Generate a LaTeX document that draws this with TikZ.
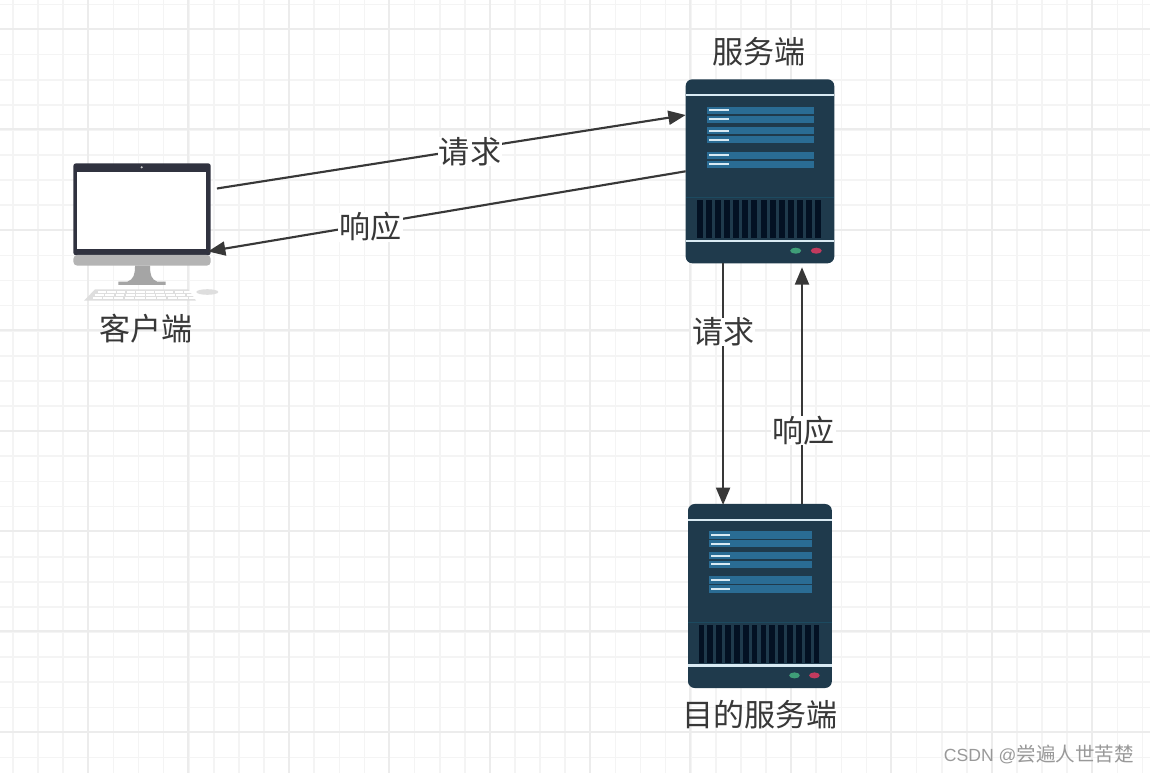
\documentclass[tikz,border=0pt]{standalone}
\usepackage{xcolor}
\usepackage{fontspec}
\setmainfont{Noto Sans CJK SC}
\newfontfamily\latinfont{Liberation Sans}
\usetikzlibrary{arrows.meta,shapes.geometric}
\definecolor{gridminor}{HTML}{F4F4F4}
\definecolor{gridmajor}{HTML}{ECECEC}
\definecolor{rulegray}{HTML}{383838}
\definecolor{rackbody}{HTML}{1F3A4C}
\definecolor{rackbar}{HTML}{2A6C94}
\definecolor{rackvent}{HTML}{031123}
\definecolor{rackline}{HTML}{D9EAF3}
\definecolor{rackseam}{HTML}{1C4A60}
\definecolor{ledgreen}{HTML}{3F9E78}
\definecolor{ledred}{HTML}{C23A5E}
\definecolor{framedark}{HTML}{30323F}
\definecolor{chingray}{HTML}{B4B4B4}
\definecolor{keygray}{HTML}{DEDEDE}
\begin{document}
\begin{tikzpicture}[
  x=0.75pt, y=-0.75pt,
  font=\fontsize{23.3pt}{27pt}\selectfont,
  hostbox/.style={inner sep=0pt, outer sep=0pt, minimum height=138pt},
  lab/.style={text=rulegray, inner sep=0pt},
  tag/.style={lab, fill=white, inner xsep=1pt, inner ysep=0pt},
  arr/.style={-{Triangle[length=13pt,width=10.5pt]}, line width=1.6pt, rulegray},
  pics/rack/.style={code={
    \fill[rackbody, rounded corners=5pt] (0,0) rectangle (148.6,184);
    \fill[rackline] (0,14.7) rectangle (148.6,16.9);
    \foreach \ya/\yb in {27.4/34.7,36.4/43.4,48/55,56.7/64,72.4/79.7,81.4/88.7}
      \fill[rackbar] (21.6,\ya) rectangle (128,\yb);
    \foreach \yl in {30.7,39.7,51.7,60.4,76,85}
      \fill[rackline] (23.6,\yl-1) rectangle (43.3,\yl+1);
    \fill[rackseam] (0,118) rectangle (148.6,119);
    \foreach \i in {0,...,13}
      \fill[rackvent] (11+9.13*\i,120.7) rectangle ++(6,38.3);
    \fill[rackline] (0,160.3) rectangle (148.6,162.5);
    \fill[ledgreen] (110,171.4) ellipse [x radius=5.5, y radius=3];
    \fill[ledred] (130.6,171.4) ellipse [x radius=5.5, y radius=3];
  }},
  pics/desktop/.style={code={
    \fill[framedark, rounded corners=2pt] (0,92) -- (0,0) -- (137.4,0) -- (137.4,92) -- cycle;
    \fill[white] (4,8.4) rectangle (132.4,85.7);
    \fill[gray!40] (68.4,4) circle [radius=1.2];
    \fill[chingray, rounded corners=3pt] (0,91.7) -- (137.4,91.7) -- (137.4,102.4) -- (0,102.4) -- cycle;
    \fill[chingray!92!black] (61.7,102.4) -- (76.7,102.4) .. controls (76.7,112) and (78,116) .. (84,118.4)
      -- (92.4,118.4) -- (92.4,121.7) -- (45,121.7) -- (45,118.4) -- (54,118.4)
      .. controls (60,116) and (61.7,112) .. (61.7,102.4) -- cycle;
    \fill[keygray] (21.7,126) -- (115,126) -- (122.7,137.4) -- (10.7,137.4) -- cycle;
    \foreach \r in {0,1,2}
      \foreach \c in {0,...,9}
        \fill[white] (24.5-2.6*\r+9.6*\c+0.55*\c*\r,127.4+3.2*\r) rectangle ++(8.4+0.5*\r,2.2);
    \fill[keygray] (134,128.7) ellipse [x radius=11, y radius=2.8];
  }}
]
% grid
\fill[white] (0,0) rectangle (1150,773);
\useasboundingbox (0,0) rectangle (1150,773);
\foreach \k in {0,...,45}
  \draw[gridminor, line width=1.2pt] (13+25.1*\k,0) -- (13+25.1*\k,773);
\foreach \k in {0,...,30}
  \draw[gridminor, line width=1.2pt] (0,4.5+25.1*\k) -- (1150,4.5+25.1*\k);
\foreach \k in {0,...,10}
  \draw[gridmajor, line width=1.5pt] (88+100.4*\k,0) -- (88+100.4*\k,773);
\foreach \k in {0,...,7}
  \draw[gridmajor, line width=1.5pt] (0,29+100.4*\k) -- (1150,29+100.4*\k);

\node[hostbox, minimum width=103pt, minimum height=76.8pt] (client) at (142,214.5) {};
\node[hostbox, minimum width=111.5pt] (server) at (760,171.3) {};
\node[hostbox, minimum width=108pt] (target) at (760,596) {};
\pic at (client.north west) {desktop};
\pic at (server.north west) {rack};
\pic[xscale=0.968] at (target.north west) {rack};

\node[lab] (clientname) at (146,328.5) {客户端};
\node[lab] (servername) at (759,52) {服务端};
\node[lab] (targetname) at (760,715) {目的服务端};

\draw[arr] ([xshift=4.7pt,yshift=19.5pt]client.east) -- node[tag, pos=0.54, yshift=-2.2pt] {请求} ([yshift=42.2pt]server.west);
\draw[arr] (server.west) -- node[tag, pos=0.66, yshift=-2.2pt] {响应} ([xshift=-2pt,yshift=-27.7pt]client.east);
\draw[arr] ([xshift=-27.7pt]server.south) -- node[tag, pos=0.28, yshift=-0.8pt] {请求} ([xshift=-27.7pt,yshift=-0.7pt]target.north);
\draw[arr] ([xshift=31.5pt]target.north) -- node[tag, pos=0.32, xshift=1.3pt, yshift=-1.5pt] {响应} ([xshift=31.5pt,yshift=-3pt]server.south);

\node[inner sep=0pt, text=black!40, font=\fontsize{14.7pt}{17pt}\selectfont] (mark) at (1039,754) {{\latinfont\fontsize{13.2pt}{17pt}\selectfont CSDN @}尝遍人世苦楚};
\end{tikzpicture}
\end{document}
